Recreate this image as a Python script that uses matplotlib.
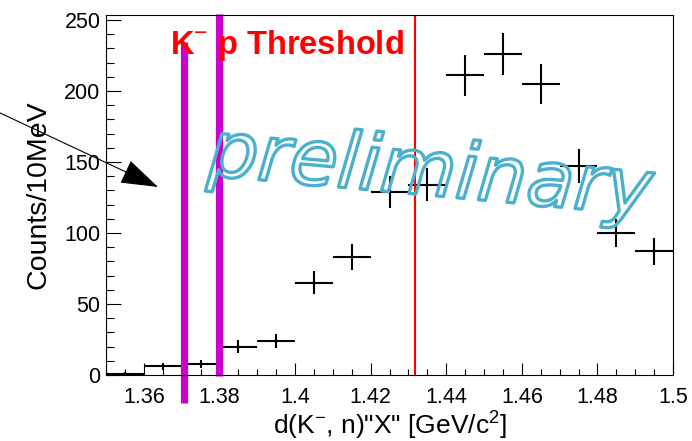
import matplotlib
matplotlib.use('Agg')
import matplotlib.pyplot as plt
import matplotlib.patheffects as pe
import matplotlib.transforms as mtransforms
from matplotlib.ticker import MultipleLocator, FormatStrFormatter

plt.rcParams['font.family'] = ['Liberation Sans', 'DejaVu Sans']
plt.rcParams['mathtext.fontset'] = 'custom'
plt.rcParams['mathtext.rm'] = 'Liberation Sans'
plt.rcParams['mathtext.bf'] = 'Liberation Sans:bold'

# histogram bins (GeV/c^2) and counts
bin_centers = [1.355, 1.365, 1.375, 1.385, 1.395, 1.405, 1.415, 1.425,
               1.435, 1.445, 1.455, 1.465, 1.475, 1.485, 1.495]
counts = [1, 6, 8, 20, 24, 65, 83, 129, 134, 211, 226, 205, 147, 100, 87]
count_err = [1.0, 2.4, 2.8, 4.5, 4.9, 8.1, 9.1, 11.4, 11.6, 14.5, 15.0, 14.3, 12.1, 10.0, 9.3]
bin_halfwidth = 0.005

# marker lines
magenta_lines = [1.3706, 1.3800]
threshold = 1.4318

fig = plt.figure(figsize=(6.92, 4.41), dpi=100)
ax = fig.add_axes([0.1532, 0.1497, 0.8194, 0.8163])

ax.errorbar(bin_centers, counts, xerr=bin_halfwidth, yerr=count_err,
            fmt='none', ecolor='black', elinewidth=1.5, capsize=0)

ax.set_xlim(1.35, 1.5)
ax.set_ylim(0, 253.5)

ax.xaxis.set_major_locator(MultipleLocator(0.02))
ax.xaxis.set_minor_locator(MultipleLocator(0.005))
ax.xaxis.set_major_formatter(FormatStrFormatter('%g'))
ax.yaxis.set_major_locator(MultipleLocator(50))
ax.yaxis.set_minor_locator(MultipleLocator(10))
ax.tick_params(axis='both', which='both', direction='in', top=False, right=False,
               width=0.8, labelsize=15.5)
ax.tick_params(axis='x', which='major', length=8.5, pad=9)
ax.tick_params(axis='x', which='minor', length=4.2)
ax.tick_params(axis='y', which='major', length=11, pad=4)
ax.tick_params(axis='y', which='minor', length=5.5)
for sp in ax.spines.values():
    sp.set_linewidth(0.8)

ax.set_xlabel('d(K$^{-}$, n)"X" [GeV/c$^{2}$]', fontsize=19)
ax.xaxis.label.set_va('center')
ax.xaxis.set_label_coords(0.5, -0.138)
ax.set_ylabel('Counts/10MeV', fontsize=20.5, labelpad=9)

# threshold line
ax.axvline(threshold, color='red', lw=1.5)

# magenta lines (not clipped, extend outside frame)
trans = mtransforms.blended_transform_factory(ax.transData, ax.transAxes)
ax.plot([magenta_lines[0]] * 2, [-0.078, 0.925], color='#cc00cc', lw=5.2,
        transform=trans, clip_on=False, solid_capstyle='butt')
ax.plot([magenta_lines[1]] * 2, [-0.003, 1.003], color='#cc00cc', lw=5.2,
        transform=trans, clip_on=False, solid_capstyle='butt')

# label
fig.text(170 / 692, 1 - 54 / 441, 'K$^{-}$ p Threshold', color='red',
         fontsize=23.5, fontweight='bold', ha='left', va='baseline')

# arrow
ax.annotate('', xy=(158, 441 - 187), xycoords='figure pixels',
            xytext=(-2, 441 - 112), textcoords='figure pixels',
            arrowprops=dict(arrowstyle='-|>,head_length=2.4,head_width=0.8',
                            color='black', lw=0.8, mutation_scale=10,
                            shrinkA=0, shrinkB=0))

# preliminary watermark (hollow outline)
fig.text(207 / 692, 1 - 175 / 441, 'preliminary', family='DejaVu Sans',
         style='italic', fontsize=56, color='none', rotation=-5.2,
         rotation_mode='anchor', ha='left', va='baseline',
         path_effects=[pe.Stroke(linewidth=2.4, foreground='#4bb0cc')])

fig.savefig('out.png', dpi=100)
